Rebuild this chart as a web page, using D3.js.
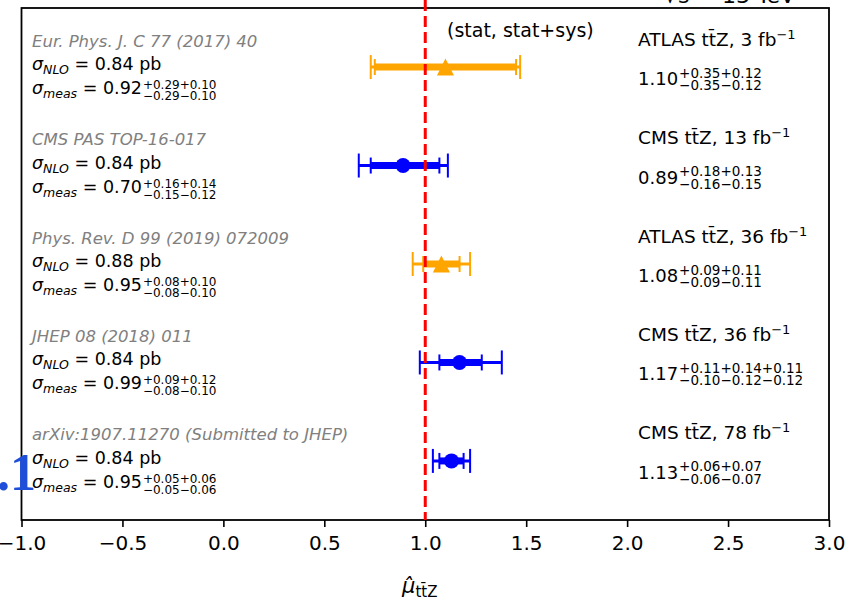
<!DOCTYPE html>
<html>
<head>
<meta charset="utf-8">
<script src="https://cdn.jsdelivr.net/npm/d3@7"></script>
<style>
  body { margin: 0; background: #fff; }
  svg { display: block; font-family: 'DejaVu Sans', sans-serif; }
</style>
</head>
<body>
<svg width="864" height="601"></svg>
<script>
// measurements, top to bottom
const references = [
  'Eur. Phys. J. C 77 (2017) 40',
  'CMS PAS TOP-16-017',
  'Phys. Rev. D 99 (2019) 072009',
  'JHEP 08 (2018) 011',
  'arXiv:1907.11270 (Submitted to JHEP)'
];
const experiments = ['ATLAS', 'CMS', 'ATLAS', 'CMS', 'CMS'];
const lumis = [3, 13, 36, 36, 78];
const muValues = [1.10, 0.89, 1.08, 1.17, 1.13];
// first component is stat, the rest are systematic pieces
const muErrUp = [[0.35, 0.12], [0.18, 0.13], [0.09, 0.11], [0.11, 0.14, 0.11], [0.06, 0.07]];
const muErrDown = [[0.35, 0.12], [0.16, 0.15], [0.09, 0.11], [0.10, 0.12, 0.12], [0.06, 0.07]];
const sigmaNLO = [0.84, 0.84, 0.88, 0.84, 0.84];
const sigmaMeas = [0.92, 0.70, 0.95, 0.99, 0.95];
const sigmaErrUp = [[0.29, 0.10], [0.16, 0.14], [0.08, 0.10], [0.09, 0.12], [0.05, 0.06]];
const sigmaErrDown = [[0.29, 0.10], [0.15, 0.12], [0.08, 0.10], [0.08, 0.10], [0.05, 0.06]];
const xTicks = [-1.0, -0.5, 0.0, 0.5, 1.0, 1.5, 2.0, 2.5, 3.0];

const colors = { ATLAS: '#ffa500', CMS: '#0000ff' };

const svg = d3.select('svg');
const plotLeft = 21.5, plotRight = 829, plotTop = 8, plotBottom = 520;

const x = d3.scaleLinear().domain([-1, 3]).range([plotLeft, plotRight]);
const y = d3.scaleLinear().domain([-0.6, 4.6]).range([plotBottom, plotTop]);

const quad = (arr) => Math.sqrt(d3.sum(arr, (v) => v * v));
const fmtErr = (arr, sign) => arr.map((v) => sign + v.toFixed(2)).join('');

// matplotlib-style '^' marker: box-centred, as tall as it is wide
const triangleUp = {
  draw(ctx, size) {
    const r = Math.sqrt(size) / 2;
    ctx.moveTo(0, -r);
    ctx.lineTo(r, r);
    ctx.lineTo(-r, r);
    ctx.closePath();
  },
};

const rows = references.map((ref, i) => ({
  ref,
  exp: experiments[i],
  lumi: lumis[i],
  mu: muValues[i],
  up: muErrUp[i],
  down: muErrDown[i],
  nlo: sigmaNLO[i],
  meas: sigmaMeas[i],
  sUp: sigmaErrUp[i],
  sDown: sigmaErrDown[i],
  pos: references.length - 1 - i,
}));

// frame
svg.append('rect')
  .attr('x', plotLeft).attr('y', plotTop)
  .attr('width', plotRight - plotLeft).attr('height', plotBottom - plotTop)
  .attr('fill', 'none').attr('stroke', 'black').attr('stroke-width', 1.8);

// x axis
const axis = svg.append('g')
  .attr('transform', `translate(0,${plotBottom})`)
  .call(d3.axisBottom(x).tickValues(xTicks).tickFormat(d3.format('.1f')).tickSize(7).tickPadding(9));
axis.select('.domain').remove();
axis.selectAll('.tick line').attr('stroke-width', 1.6);
axis.selectAll('.tick text')
  .attr('font-size', 20).attr('font-family', 'DejaVu Sans').attr('fill', 'black');

// axis title
const xl = svg.append('text').attr('x', 402).attr('y', 593).attr('font-size', 21);
xl.append('tspan').attr('font-style', 'italic').text('\u03bc\u0302');
xl.append('tspan').attr('font-size', 15).attr('dy', 4).text('tt\u0304Z');

// sqrt(s), mostly cut off at the top
svg.append('text').attr('x', 664).attr('y', 3).attr('font-size', 22).text('\u221as = 13 TeV');

// stray blue label at the left edge
svg.append('text').attr('x', 36).attr('y', 490).attr('text-anchor', 'end')
  .attr('font-family', 'Liberation Serif').attr('font-weight', 'bold')
  .attr('font-size', 52).attr('fill', '#1f4fd8').text('.1');

svg.append('text').attr('x', 447).attr('y', 37).attr('font-size', 19).text('(stat, stat+sys)');

// error bars
const bars = svg.append('g').selectAll('g').data(rows).enter().append('g')
  .attr('transform', (d) => `translate(0,${y(d.pos)})`);

bars.each(function (d) {
  const g = d3.select(this);
  const c = colors[d.exp];
  const tLo = x(d.mu - quad(d.down)), tHi = x(d.mu + quad(d.up));
  const sLo = x(d.mu - d.down[0]), sHi = x(d.mu + d.up[0]);
  g.append('line').attr('x1', tLo).attr('x2', tHi).attr('stroke', c).attr('stroke-width', 3);
  [tLo, tHi].forEach((v) => g.append('line').attr('x1', v).attr('x2', v)
    .attr('y1', -12).attr('y2', 12).attr('stroke', c).attr('stroke-width', 2));
  g.append('line').attr('x1', sLo).attr('x2', sHi).attr('stroke', c).attr('stroke-width', 7);
  [sLo, sHi].forEach((v) => g.append('line').attr('x1', v).attr('x2', v)
    .attr('y1', -8).attr('y2', 8).attr('stroke', c).attr('stroke-width', 2));
  const sym = d.exp === 'ATLAS' ? d3.symbol(triangleUp, 290) : d3.symbol(d3.symbolCircle, 177);
  g.append('path').attr('d', sym())
    .attr('transform', `translate(${x(d.mu)},0)`)
    .attr('fill', c);
});

// left text block
rows.forEach((d) => {
  const yc = y(d.pos);
  svg.append('text').attr('x', 32).attr('y', yc - 20.5)
    .attr('font-size', 16.5).attr('font-style', 'italic').attr('fill', '#808080').text(d.ref);

  const t1 = svg.append('text').attr('x', 32).attr('y', yc + 3).attr('font-size', 17.5);
  t1.append('tspan').attr('font-style', 'italic').text('\u03c3');
  t1.append('tspan').attr('font-style', 'italic').attr('font-size', 12.5).attr('dy', 4).text('NLO');
  t1.append('tspan').attr('dy', -4).text(` = ${d.nlo.toFixed(2)} pb`);

  const t2 = svg.append('text').attr('x', 32).attr('y', yc + 27).attr('font-size', 17.5);
  t2.append('tspan').attr('font-style', 'italic').text('\u03c3');
  t2.append('tspan').attr('font-style', 'italic').attr('font-size', 12.5).attr('dy', 4).text('meas');
  t2.append('tspan').attr('dy', -4).text(` = ${d.meas.toFixed(2)}`);
  const w = t2.node().getComputedTextLength();
  svg.append('text').attr('x', 33 + w).attr('y', yc + 22).attr('font-size', 12).text(fmtErr(d.sUp, '+'));
  svg.append('text').attr('x', 33 + w).attr('y', yc + 33).attr('font-size', 12).text(fmtErr(d.sDown, '\u2212'));
});

// right text block
rows.forEach((d) => {
  const yc = y(d.pos);
  const t = svg.append('text').attr('x', 638).attr('y', yc - 21.5).attr('font-size', 18.5);
  t.append('tspan').text(`${d.exp} tt\u0304Z, ${d.lumi} fb`);
  t.append('tspan').attr('font-size', 13).attr('dy', -7).text('\u22121');

  const v = svg.append('text').attr('x', 638).attr('y', yc + 18).attr('font-size', 18).text(d.mu.toFixed(2));
  const w = v.node().getComputedTextLength();
  svg.append('text').attr('x', 639 + w).attr('y', yc + 10.5).attr('font-size', 13.5).text(fmtErr(d.up, '+'));
  svg.append('text').attr('x', 639 + w).attr('y', yc + 23).attr('font-size', 13.5).text(fmtErr(d.down, '\u2212'));
});

// SM expectation
svg.append('line')
  .attr('x1', x(1)).attr('x2', x(1)).attr('y1', 0).attr('y2', plotBottom)
  .attr('stroke', 'red').attr('stroke-width', 3).attr('stroke-dasharray', '11,5');
</script>
</body>
</html>
